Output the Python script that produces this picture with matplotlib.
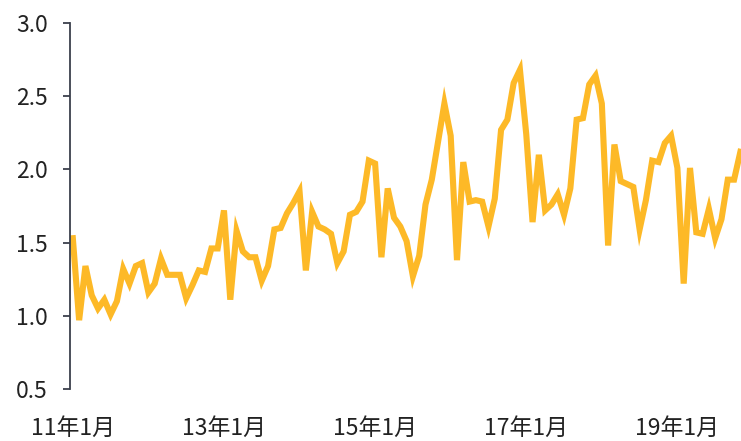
import numpy as np
import pandas as pd
import matplotlib
matplotlib.use("Agg")
import matplotlib.pyplot as plt

plt.rcParams["font.family"] = ["Noto Sans CJK SC", "DejaVu Sans"]
plt.rcParams["font.weight"] = "light"

# 月度数据 2011-01 ~ 2019-11
months = pd.date_range("2011-01-01", periods=107, freq="MS")
values = [
    1.53, 0.97, 1.34, 1.14, 1.05, 1.11, 1.01, 1.10, 1.32, 1.22, 1.34, 1.36,
    1.16, 1.22, 1.39, 1.28, 1.28, 1.28, 1.12, 1.21, 1.31, 1.30, 1.46, 1.46,
    1.72, 1.11, 1.58, 1.44, 1.40, 1.40, 1.24, 1.34, 1.59, 1.60, 1.70, 1.77,
    1.85, 1.31, 1.71, 1.61, 1.59, 1.56, 1.36, 1.44, 1.69, 1.71, 1.78, 2.06,
    2.04, 1.40, 1.87, 1.67, 1.61, 1.51, 1.27, 1.41, 1.76, 1.93, 2.19, 2.45,
    2.23, 1.38, 2.05, 1.78, 1.79, 1.78, 1.61, 1.80, 2.27, 2.34, 2.59, 2.68,
    2.24, 1.64, 2.10, 1.72, 1.76, 1.83, 1.69, 1.87, 2.34, 2.35, 2.58, 2.64,
    2.45, 1.48, 2.17, 1.92, 1.90, 1.88, 1.59, 1.79, 2.06, 2.05, 2.18, 2.23,
    2.01, 1.22, 2.01, 1.57, 1.56, 1.73, 1.53, 1.66, 1.93, 1.93, 2.12,
]
tick_idx = [0, 24, 48, 72, 96]
tick_labels = [f"{months[i].year % 100}年{months[i].month}月" for i in tick_idx]
y_ticks = [0.5, 1.0, 1.5, 2.0, 2.5, 3.0]

x = np.arange(len(values))

fig = plt.figure(figsize=(7.41, 4.41), dpi=100)
ax = fig.add_axes([70 / 741, 1 - 389 / 441, 671 / 741, 366 / 441])

ax.plot(x, values, color="#FDB927", linewidth=4.4, solid_joinstyle="miter")

ax.set_xlim(-0.45, 106.1)
ax.set_ylim(0.5, 3.0)
ax.set_yticks(y_ticks)
ax.set_yticklabels([f"{v:.1f}" for v in y_ticks])
ax.set_xticks(tick_idx)
ax.set_xticklabels(tick_labels)

for s in ["top", "right", "bottom"]:
    ax.spines[s].set_visible(False)
ax.spines["left"].set_color("#3b404c")
ax.spines["left"].set_linewidth(1.3)

ax.tick_params(axis="y", length=5, width=1.3, color="#3b404c", pad=11,
               labelsize=16.5, labelcolor="#222222")
ax.tick_params(axis="x", length=0, pad=20, labelsize=16.5, labelcolor="#222222")

fig.savefig("out.png", dpi=100)
